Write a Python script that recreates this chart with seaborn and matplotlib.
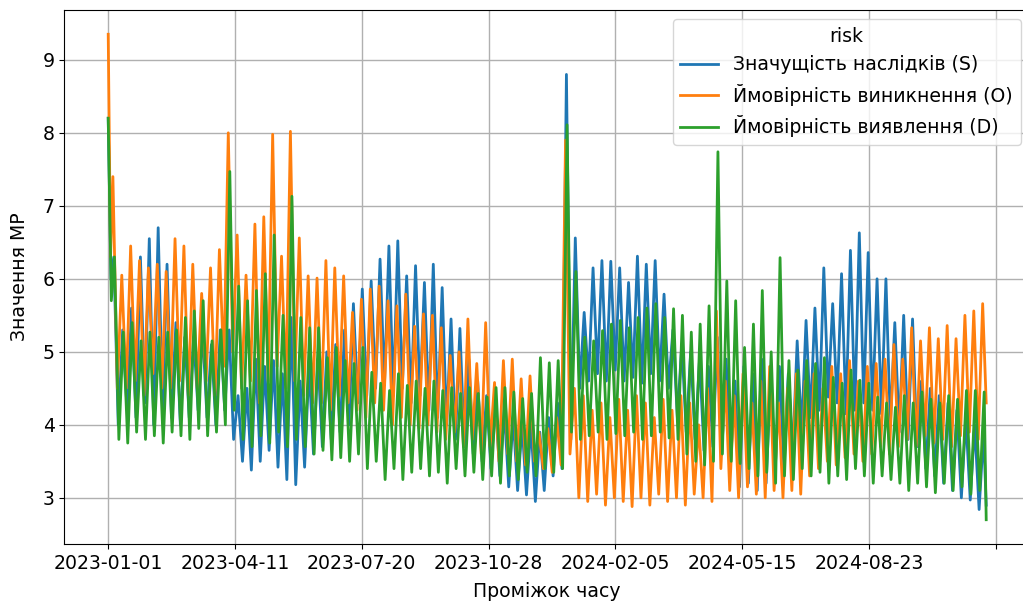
import matplotlib
matplotlib.use("Agg")
import matplotlib.pyplot as plt
import seaborn as sns
import numpy as np
import pandas as pd

# ---- data (weekly peaks and troughs per series) ----
series_names = ["Значущість наслідків (S)", "Ймовірність виникнення (O)", "Ймовірність виявлення (D)"]

s_peaks = [8.2, 6.3, 5.3, 5.6, 6.3, 6.55, 6.7, 6.2, 5.4, 5.2,
           5.2, 5.3, 5.1, 5.3, 5.3, 4.4, 4.5, 4.9, 4.8, 4.88,
           4.7, 5.47, 4.6, 4.8, 4.9, 5.0, 5.1, 5.3, 5.66, 5.86,
           5.97, 6.27, 6.45, 6.52, 6.04, 6.18, 5.95, 6.2, 5.88, 5.45,
           5.32, 4.9, 4.6, 4.4, 4.3, 4.2, 4.1, 4.0, 4.0, 3.9,
           4.1, 4.3, 8.8, 6.56, 5.54, 6.15, 6.25, 6.24, 6.15, 5.95,
           6.31, 6.2, 6.25, 5.79, 5.3, 5.1, 5.0, 4.9, 4.8, 5.2,
           4.9, 4.6, 4.8, 4.7, 4.9, 4.6, 4.8, 4.7, 5.15, 5.43,
           5.6, 6.15, 5.66, 6.07, 6.39, 6.63, 6.36, 6.0, 6.0, 5.4,
           5.5, 5.45, 4.6, 4.5, 4.4, 4.3, 4.2, 4.1, 4.0, 3.9]
s_troughs = [6.0, 4.0, 4.2, 4.1, 4.3, 4.0, 4.2, 4.1, 4.0, 4.1,
             4.2, 4.1, 4.0, 4.2, 3.8, 3.5, 3.38, 3.5, 3.65, 3.42,
             3.25, 3.18, 3.42, 3.6, 3.7, 3.8, 3.9, 4.0, 4.3, 4.4,
             4.5, 4.55, 4.4, 4.5, 4.3, 4.4, 4.2, 4.1, 4.0, 3.8,
             3.7, 3.6, 3.5, 3.4, 3.3, 3.15, 3.1, 3.04, 2.95, 3.1,
             3.3, 3.4, 3.8, 4.5, 4.6, 4.7, 4.6, 4.75, 4.6, 4.65,
             4.57, 4.7, 4.6, 4.5, 4.1, 3.9, 3.8, 3.65, 3.7, 3.6,
             3.5, 3.15, 3.2, 3.1, 3.2, 3.3, 3.4, 3.6, 3.9, 4.1,
             4.2, 4.38, 4.3, 4.15, 4.2, 4.3, 4.2, 4.15, 4.0, 3.9,
             3.8, 3.7, 3.4, 3.3, 3.2, 3.1, 3.0, 2.97, 2.84, 2.9]

o_peaks = [9.35, 7.4, 6.05, 6.45, 6.25, 6.15, 6.2, 6.1, 6.55, 6.45,
           6.2, 5.8, 6.15, 6.4, 8.0, 6.6, 6.05, 6.75, 6.85, 7.98,
           6.31, 8.02, 6.56, 6.04, 6.01, 6.25, 6.15, 6.04, 5.54, 5.72,
           5.86, 5.9, 5.7, 5.63, 5.79, 5.35, 5.52, 5.5, 5.33, 4.95,
           5.0, 5.45, 4.84, 5.4, 4.58, 4.88, 4.9, 4.63, 4.67, 3.9,
           3.95, 4.1, 7.9, 4.5, 4.4, 4.2, 4.3, 4.1, 4.35, 4.2,
           4.4, 4.3, 4.1, 4.35, 4.2, 4.4, 4.3, 4.0, 4.5, 5.56,
           4.6, 4.4, 4.7, 4.3, 4.6, 4.8, 4.3, 4.5, 4.7, 4.6,
           4.7, 4.5, 4.8, 4.7, 4.88, 4.6, 4.8, 4.84, 4.9, 5.1,
           4.9, 5.33, 5.15, 5.33, 5.18, 5.36, 5.18, 5.5, 5.56, 5.66]
o_troughs = [6.3, 4.5, 4.5, 4.6, 4.4, 4.7, 4.5, 4.5, 4.6, 4.4,
             4.5, 4.6, 4.4, 4.8, 5.0, 4.5, 4.6, 4.3, 4.6, 4.8,
             4.5, 4.6, 4.4, 4.3, 4.3, 4.2, 4.4, 4.3, 4.2, 4.1,
             4.3, 4.2, 4.0, 4.1, 4.0, 3.95, 4.0, 3.9, 3.8, 3.9,
             3.7, 3.8, 3.6, 3.7, 3.5, 3.6, 3.5, 3.45, 3.5, 3.4,
             3.35, 3.45, 3.6, 3.0, 2.95, 3.05, 2.9, 3.0, 2.95, 2.88,
             3.0, 2.9, 3.05, 2.95, 3.0, 2.9, 3.05, 3.0, 2.95, 3.4,
             3.1, 3.0, 3.15, 3.05, 3.0, 3.1, 3.0, 3.1, 3.05, 3.3,
             3.4, 3.5, 3.45, 3.55, 3.6, 3.5, 3.6, 3.7, 3.6, 3.7,
             3.8, 3.7, 3.85, 3.75, 3.8, 3.7, 3.85, 3.9, 3.8, 4.3]

d_peaks = [8.2, 6.3, 5.27, 5.4, 5.15, 5.27, 5.2, 5.27, 5.3, 5.47,
           5.56, 5.7, 5.15, 5.3, 7.47, 5.9, 5.7, 5.84, 6.07, 6.6,
           5.5, 7.13, 5.47, 5.33, 5.33, 4.92, 5.06, 4.88, 4.84, 5.06,
           4.72, 4.57, 4.47, 4.7, 4.54, 4.6, 4.5, 4.6, 4.47, 4.51,
           4.43, 4.51, 4.43, 4.38, 4.51, 4.51, 4.45, 4.36, 4.43, 4.92,
           4.85, 4.88, 8.11, 6.1, 5.2, 5.15, 5.29, 5.38, 5.43, 5.33,
           5.47, 5.6, 5.66, 5.47, 5.59, 5.5, 5.27, 5.38, 5.63, 7.74,
           5.97, 5.7, 5.06, 5.38, 5.84, 5.0, 6.29, 4.88, 4.75, 4.88,
           4.84, 4.92, 4.65, 4.57, 4.75, 4.61, 4.57, 4.38, 4.3, 4.24,
           4.4, 4.3, 4.45, 4.35, 4.3, 4.4, 4.35, 4.47, 4.47, 4.45]
d_troughs = [5.7, 3.8, 3.75, 3.9, 3.8, 3.85, 3.75, 3.9, 3.85, 3.8,
             3.95, 3.85, 3.9, 4.0, 4.2, 3.8, 3.7, 3.85, 3.75, 3.9,
             3.7, 3.8, 3.7, 3.6, 3.65, 3.52, 3.55, 3.5, 3.6, 3.4,
             3.5, 3.25, 3.4, 3.25, 3.35, 3.4, 3.3, 3.35, 3.2, 3.4,
             3.3, 3.35, 3.25, 3.3, 3.2, 3.3, 3.25, 3.35, 3.3, 3.4,
             3.35, 3.4, 3.9, 3.8, 3.85, 3.9, 3.8, 3.88, 3.85, 3.9,
             3.8, 3.85, 3.9, 3.82, 3.8, 3.6, 3.5, 3.45, 3.5, 3.6,
             3.5, 3.47, 3.4, 3.3, 3.35, 3.2, 3.3, 3.25, 3.4, 3.3,
             3.35, 3.2, 3.3, 3.25, 3.4, 3.3, 3.2, 3.3, 3.25, 3.2,
             3.1, 3.2, 3.15, 3.07, 3.2, 3.1, 3.15, 3.05, 3.1, 2.7]

tick_labels = ["2023-01-01", "2023-04-11", "2023-07-20", "2023-10-28",
               "2024-02-05", "2024-05-15", "2024-08-23", ""]

# ---- build long-form table (weekly cycle: first reading on day 0, then one peak per week) ----
start = pd.Timestamp("2023-01-01")
phase = {series_names[0]: 0.7, series_names[1]: 0.0, series_names[2]: 1.2}
pairs = {series_names[0]: (s_peaks, s_troughs),
         series_names[1]: (o_peaks, o_troughs),
         series_names[2]: (d_peaks, d_troughs)}
frames = []
for name in series_names:
    pk, tr = pairs[name]
    n = len(pk)
    peak_days = np.array([0.0] + [3.7 + 7 * (k - 1) + phase[name] for k in range(1, n)])
    trough_days = np.empty(n)
    trough_days[0] = peak_days[1] / 2
    trough_days[1:] = peak_days[1:] + 3.5
    trough_days[-1] = min(trough_days[-1], 692.5)
    days = np.empty(2 * n)
    vals = np.empty(2 * n)
    days[0::2], days[1::2] = peak_days, trough_days
    vals[0::2], vals[1::2] = pk, tr
    dates = start + pd.to_timedelta(days, unit="D")
    frames.append(pd.DataFrame({"date": dates, "value": vals, "risk": name}))
df = pd.concat(frames, ignore_index=True)

# ---- plot ----
plt.rcParams["font.size"] = 13.6
fig, ax = plt.subplots(figsize=(10.23, 6.06), dpi=100)
fig.subplots_adjust(left=0.0629, right=1.0068, top=0.9835, bottom=0.1023)

sns.lineplot(data=df, x="date", y="value", hue="risk", hue_order=series_names,
             palette=["#1f77b4", "#ff7f0e", "#2ca02c"], linewidth=2, ax=ax)

ticks = [start + pd.Timedelta(days=100 * i) for i in range(len(tick_labels))]
ax.set_xticks(ticks)
ax.set_xticklabels(tick_labels)
ax.set_xlim(start - pd.Timedelta(days=34.6), start + pd.Timedelta(days=727))
ax.grid(True, color="#b0b0b0", linewidth=1)
ax.set_axisbelow(True)
ax.set_xlabel("Проміжок часу", labelpad=7)
ax.set_ylabel("Значення МР", labelpad=10)
ax.legend(title="risk", loc="upper right")

fig.savefig("out.png", dpi=100)
